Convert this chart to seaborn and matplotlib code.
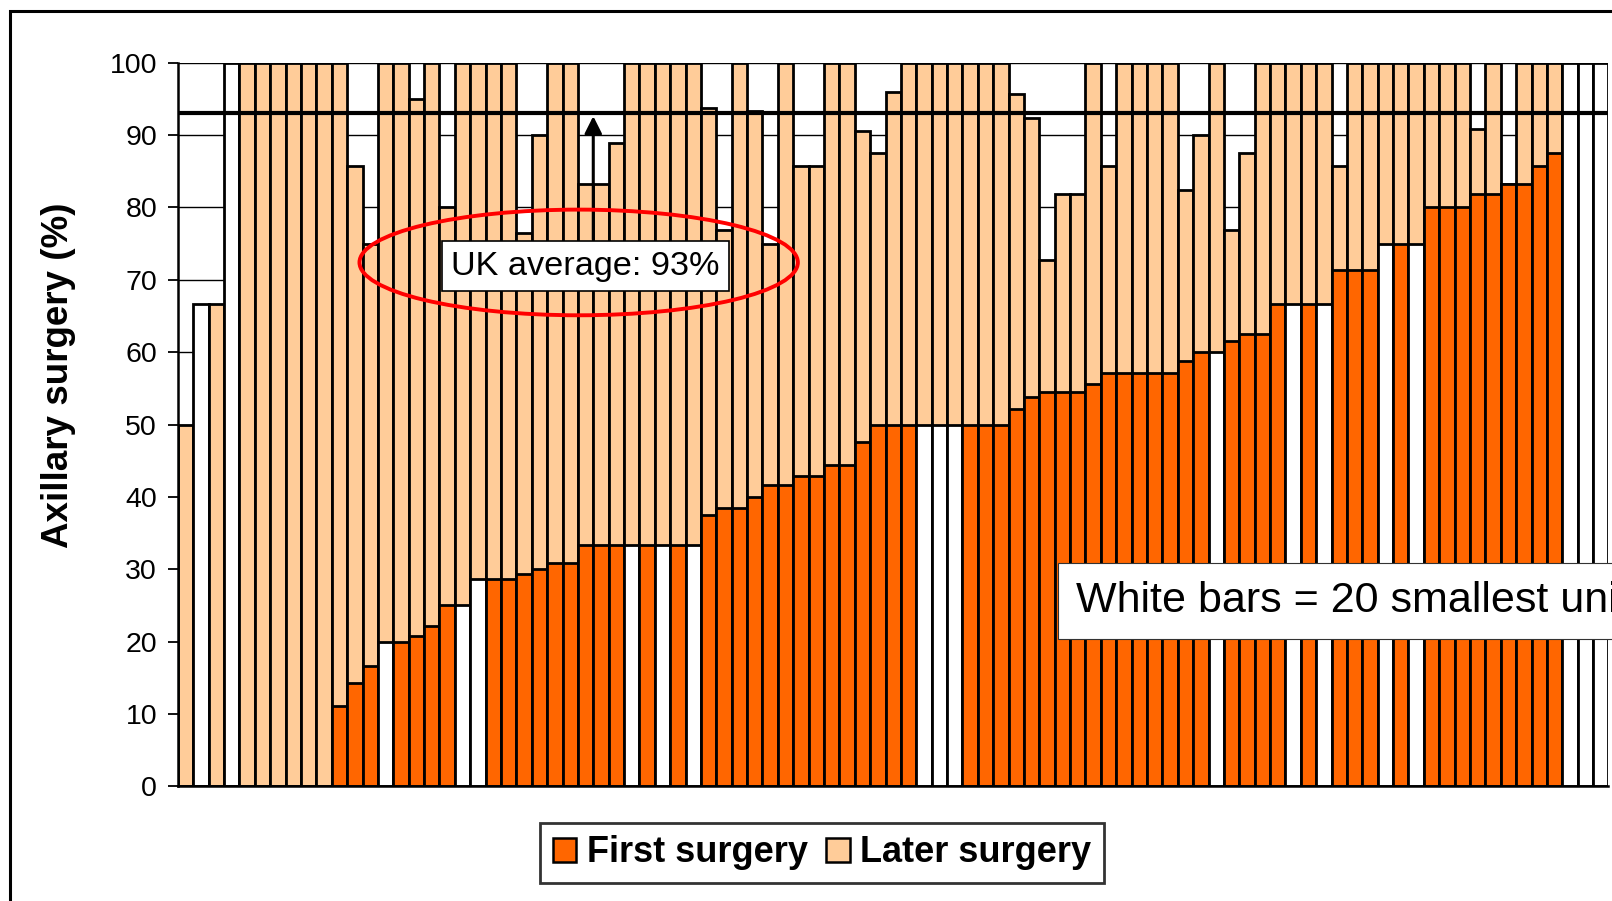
import matplotlib
matplotlib.use("Agg")
import matplotlib.pyplot as plt
import pandas as pd
import seaborn as sns
from matplotlib.patches import Ellipse, Patch, Rectangle

# axillary surgery per unit (%), sorted by first surgery
first = [0, 0, 0, 0, 0, 0, 0, 0, 0, 0,
         11.1, 14.3, 16.7, 20, 20, 20.8, 22.2, 25, 25, 28.6,
         28.6, 28.6, 29.4, 30, 30.8, 30.8, 33.3, 33.3, 33.3, 33.3,
         33.3, 33.3, 33.3, 33.3, 37.5, 38.5, 38.5, 40, 41.7, 41.7,
         42.9, 42.9, 44.4, 44.4, 47.6, 50, 50, 50, 50, 50,
         50, 50, 50, 50, 52.2, 53.8, 54.5, 54.5, 54.5, 55.6,
         57.1, 57.1, 57.1, 57.1, 57.1, 58.8, 60, 60, 61.5, 62.5,
         62.5, 66.7, 66.7, 66.7, 66.7, 71.4, 71.4, 71.4, 75, 75,
         75, 80, 80, 80, 81.8, 81.8, 83.3, 83.3, 85.7, 87.5,
         100, 100, 100]
total = [50, 66.7, 66.7, 100, 100, 100, 100, 100, 100, 100,
         100, 85.7, 75, 100, 100, 95, 100, 80, 100, 100,
         100, 100, 76.5, 90, 100, 100, 83.3, 83.3, 88.9, 100,
         100, 100, 100, 100, 93.8, 76.9, 100, 93.3, 75, 100,
         85.7, 85.7, 100, 100, 90.5, 87.5, 96, 100, 100, 100,
         100, 100, 100, 100, 95.7, 92.3, 72.7, 81.8, 81.8, 100,
         85.7, 100, 100, 100, 100, 82.4, 90, 100, 76.9, 87.5,
         100, 100, 100, 100, 100, 85.7, 100, 100, 100, 100,
         100, 100, 100, 100, 90.9, 100, 83.3, 100, 100, 100,
         100, 100, 100]
# positions (0-based) of the smallest units, drawn white
small_units = [1, 3, 13, 18, 19, 29, 31, 33, 48, 49, 50, 67, 72, 74, 78, 80, 90, 91, 92]
uk_average = 93

dark = "#FF6600"
light = "#FFCC99"

df = pd.DataFrame({"unit": [f"U{i + 1:02d}" for i in range(len(first))],
                   "first": first, "total": total})
df["small"] = [i in small_units for i in range(len(df))]

first_pal = {u: ("white" if s else dark) for u, s in zip(df["unit"], df["small"])}
later_pal = {u: ("white" if (s and f == 0) else light)
             for u, s, f in zip(df["unit"], df["small"], df["first"])}

sns.set_style("white")
plt.rcParams["font.family"] = ["Liberation Sans", "DejaVu Sans"]
plt.rcParams["text.color"] = "black"
plt.rcParams["axes.labelcolor"] = "black"
plt.rcParams["ytick.color"] = "black"
plt.rcParams["xtick.color"] = "black"

fig = plt.figure(figsize=(16.12, 9.01), dpi=100)
ax = fig.add_axes([0.1104, 0.1272, 0.8874, 0.8032])

sns.barplot(data=df, x="unit", y="total", hue="unit", palette=later_pal, legend=False,
            width=1.0, saturation=1, edgecolor="black", linewidth=2.0, ax=ax, zorder=2)
sns.barplot(data=df, x="unit", y="first", hue="unit", palette=first_pal, legend=False,
            width=1.0, saturation=1, edgecolor="black", linewidth=2.0, ax=ax, zorder=3)

ax.set_xlim(-0.5, len(df) - 0.5)
ax.set_ylim(0, 100)
ax.set_yticks(range(0, 101, 10))
ax.set_xticks([])
ax.set_xlabel("")
ax.set_axisbelow(True)
ax.yaxis.grid(True, color="black", lw=1.0)
ax.tick_params(axis="y", labelsize=20.5, length=7, width=1.3, direction="out", pad=8,
               left=True, colors="black")
for s in ["top", "right"]:
    ax.spines[s].set_visible(False)
for s in ["left", "bottom"]:
    ax.spines[s].set_color("black")
    ax.spines[s].set_linewidth(1.8)
    ax.spines[s].set_zorder(5)

ax.set_ylabel("Axillary surgery (%)", fontsize=26.5, fontweight="bold", color="black")
ax.yaxis.set_label_coords(-0.071, 0.568)

# UK average line, arrow and callout
ax.axhline(uk_average, color="black", lw=3, zorder=6)
ax.annotate("", xy=(26.5, uk_average), xytext=(26.5, 75.2),
            arrowprops=dict(arrowstyle="-|>", color="black", lw=2.2, mutation_scale=26),
            zorder=7)
ax.add_patch(Ellipse((25.55, 72.4), 28.5, 14.6, fill=False, edgecolor="#FF0000",
                     lw=2.8, zorder=7))
ax.text(26.0, 71.9, f"UK average: {uk_average}%", fontsize=24.7, ha="center", va="center",
        color="black", zorder=8,
        bbox=dict(boxstyle="square,pad=0.28", fc="white", ec="black", lw=1.2))

ax.text(57.9, 25.6, "White bars = 20 smallest units", fontsize=31, ha="left", va="center",
        color="black", zorder=8, clip_on=False,
        bbox=dict(boxstyle="square,pad=0.42", fc="white", ec="#333333", lw=0.8))

handles = [Patch(facecolor=dark, edgecolor="black", lw=1.8, label="First surgery"),
           Patch(facecolor=light, edgecolor="black", lw=1.8, label="Later surgery")]
leg = fig.legend(handles=handles, loc="center", bbox_to_anchor=(0.510, 0.0533), ncol=2,
                 prop={"size": 26, "weight": "bold"}, frameon=True, fancybox=False,
                 handlelength=0.65, handleheight=0.65, handletextpad=0.3,
                 columnspacing=0.5, borderpad=0.35, labelcolor="black")
leg.get_frame().set_edgecolor("black")
leg.get_frame().set_linewidth(2)

# outer chart frame (clipped at right and bottom)
fig.add_artist(Rectangle((0.0062, -0.05), 1.2, 0.9878 + 0.05, transform=fig.transFigure,
                         fill=False, lw=2.2, edgecolor="black", clip_on=False))

fig.savefig("out.png", dpi=100)
